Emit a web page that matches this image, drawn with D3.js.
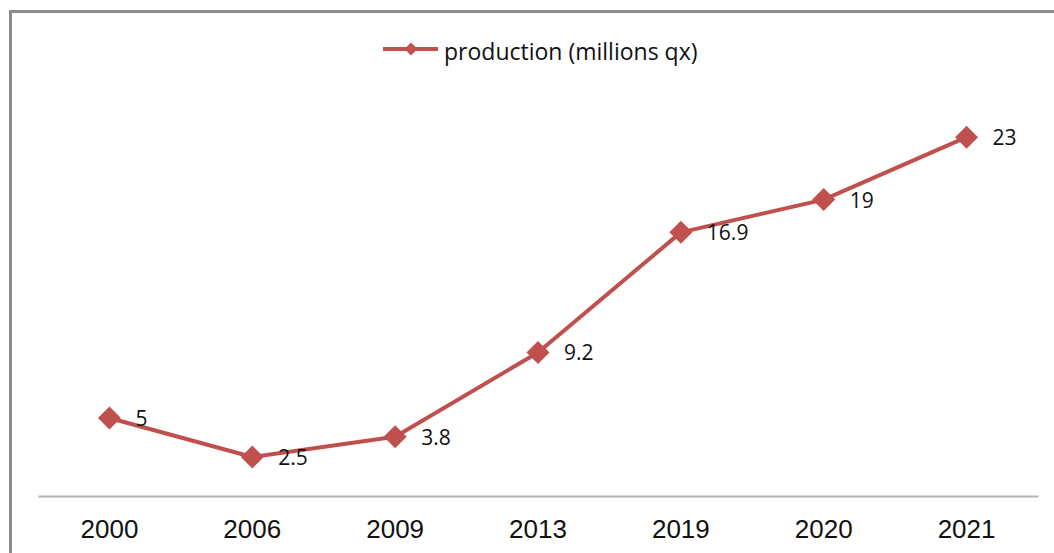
<!DOCTYPE html>
<html>
<head>
<meta charset="utf-8">
<script src="https://cdn.jsdelivr.net/npm/d3@7"></script>
<style>
  html, body { margin: 0; padding: 0; background: #fff; }
  svg { display: block; }
</style>
</head>
<body>
<svg id="chart" width="1054" height="553"></svg>
<script>
// Production by year (millions of quintals)
const years = ["2000", "2006", "2009", "2013", "2019", "2020", "2021"];
const production = [5, 2.5, 3.8, 9.2, 16.9, 19, 23];
const seriesName = "production (millions qx)";

const W = 1054, H = 553;
const red = "#C0504D";
const svg = d3.select("#chart");

// chart frame (runs off the right and bottom edges)
svg.append("rect")
  .attr("x", 10.5).attr("y", 11.5)
  .attr("width", W + 20).attr("height", H + 20)
  .attr("fill", "#fff")
  .attr("stroke", "#8c8c8c")
  .attr("stroke-width", 3);

const plot = { left: 38, right: 1038, top: 106, bottom: 496 };

const x = d3.scaleBand().domain(years).range([plot.left, plot.right]);
const y = d3.scaleLinear().domain([0, 25]).range([plot.bottom, plot.top]);
const cx = d => x(d) + x.bandwidth() / 2;

// category axis
const xAxis = svg.append("g")
  .attr("transform", `translate(0,${plot.bottom})`)
  .call(d3.axisBottom(x).tickSize(0).tickPadding(24));
xAxis.select(".domain").attr("stroke", "#b3b3b3").attr("stroke-width", 2);
xAxis.selectAll("text")
  .attr("font-family", "'Liberation Sans', Arial, sans-serif")
  .attr("font-size", 26)
  .attr("fill", "#111");

const data = years.map((yr, i) => ({ year: yr, value: production[i] }));

// series line
svg.append("path")
  .datum(data)
  .attr("fill", "none")
  .attr("stroke", red)
  .attr("stroke-width", 4)
  .attr("stroke-linejoin", "round")
  .attr("d", d3.line().x(d => cx(d.year)).y(d => y(d.value)));

const diamond = r => `M0,${-r}L${r},0L0,${r}L${-r},0Z`;

// markers
svg.append("g").selectAll("path")
  .data(data)
  .join("path")
  .attr("transform", d => `translate(${cx(d.year)},${y(d.value)})`)
  .attr("d", diamond(11.5))
  .attr("fill", red);

// value labels
svg.append("g").selectAll("text")
  .data(data)
  .join("text")
  .attr("x", d => cx(d.year) + 26)
  .attr("y", d => y(d.value) + 8)
  .attr("font-family", "'Open Sans', sans-serif")
  .attr("font-size", 21)
  .attr("fill", "#111")
  .text(d => d.value);

// legend
const legend = svg.append("g").attr("transform", "translate(383,49)");
legend.append("line")
  .attr("x1", 0).attr("x2", 55).attr("y1", 0).attr("y2", 0)
  .attr("stroke", red).attr("stroke-width", 4);
legend.append("path")
  .attr("transform", "translate(28,0)")
  .attr("d", diamond(6.5))
  .attr("fill", red);
legend.append("text")
  .attr("x", 61).attr("y", 11)
  .attr("font-family", "'Open Sans', sans-serif")
  .attr("font-size", 23)
  .attr("fill", "#111")
  .text(seriesName);
</script>
</body>
</html>
